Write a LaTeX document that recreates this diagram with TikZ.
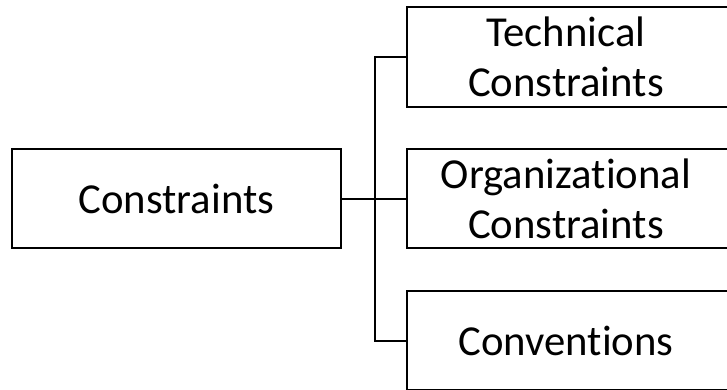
\documentclass[tikz,border=0pt]{standalone}
\usepackage{fontspec}
\setmainfont[Ligatures=NoCommon]{Carlito}
\begin{document}
\begin{tikzpicture}[x=1pt,y=-1pt,
  box/.style={draw=black,line width=2pt,inner sep=0pt},
  lbl/.style={inner sep=0pt,align=center,font=\fontsize{42.7}{50}\selectfont},
  link/.style={draw=black,line width=2pt}]
\useasboundingbox (0,0) rectangle (727,389);
\node[box,lbl,minimum width=329pt,minimum height=99pt] (C) at (176.5,198.5) {Constraints};
\node[box,minimum width=330pt,minimum height=100pt] (T) at (572,57) {};
\node[box,minimum width=330pt,minimum height=99pt] (O) at (572,198.5) {};
\node[box,minimum width=330pt,minimum height=99pt] (V) at (572,340.5) {};
\node[lbl] (Tt) at (566,57) {Technical\\Constraints};
\node[lbl] (Ot) at (566,198.5) {Organizational\\Constraints};
\node[lbl] (Vt) at (566,340.5) {Conventions};
\coordinate (j) at (375,198.5);
\draw[link] (C.east) -- (O.west);
\draw[link] (T.west) -- (T.west -| j) -- (V.west -| j) -- (V.west);
\end{tikzpicture}
\end{document}
